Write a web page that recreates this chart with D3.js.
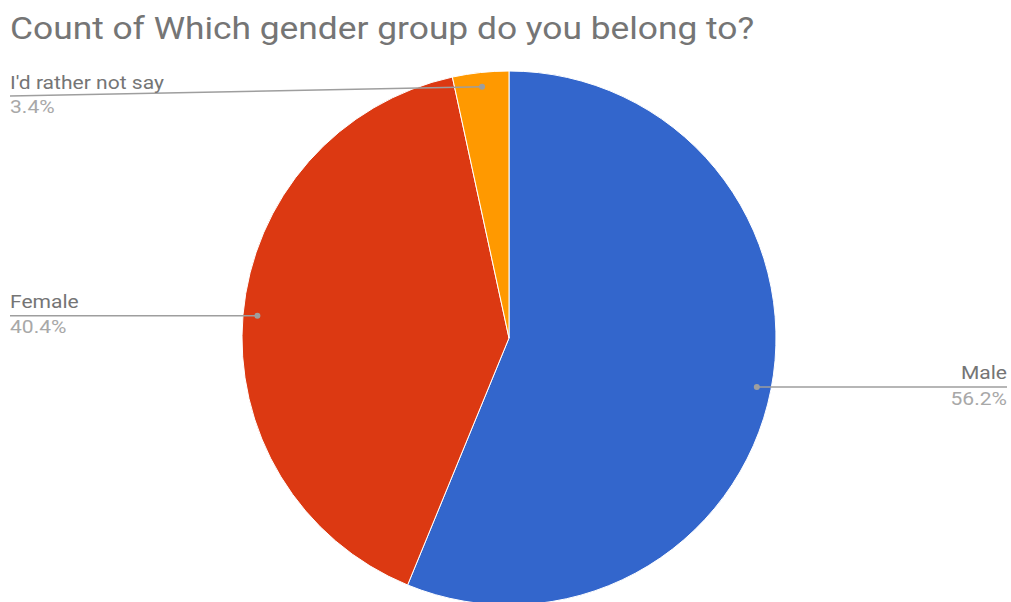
<!DOCTYPE html>
<html>
<head>
<meta charset="utf-8">
<script src="https://cdn.jsdelivr.net/npm/d3@7"></script>
<style>
  html, body { margin: 0; padding: 0; background: #fff; }
  svg { display: block; font-family: Roboto, "Noto Sans", sans-serif; }
</style>
</head>
<body>
<svg id="chart" width="1011" height="602"></svg>
<script>
// Survey answers and their shares (percent)
const categories = ["Male", "Female", "I'd rather not say"];
const shares = [56.2, 40.4, 3.4];
const colors = ["#3366cc", "#dc3912", "#ff9900"];
const title = "Count of Which gender group do you belong to?";

const cx = 509, cy = 338, radius = 267;

const svg = d3.select("#chart");

// Text helper: draws slightly widened lettering anchored at (x, y)
function wideText(parent, x, y, str, size, color, anchor, sx) {
  return parent.append("text")
    .attr("transform", `translate(${x},${y}) scale(${sx},1)`)
    .attr("text-anchor", anchor || "start")
    .attr("fill", color)
    .style("font-size", size + "px")
    .text(str);
}

wideText(svg, 10, 39, title, 31, "#757575", "start", 1.14);

const data = categories.map((c, i) => ({ name: c, value: shares[i], color: colors[i] }));

const pie = d3.pie().value(d => d.value).sort(null);
const arcs = pie(data);
const arc = d3.arc().innerRadius(0).outerRadius(radius);

const g = svg.append("g").attr("transform", `translate(${cx},${cy})`);

g.selectAll("path.slice")
  .data(arcs)
  .join("path")
  .attr("class", "slice")
  .attr("d", arc)
  .attr("fill", d => d.data.color)
  .attr("stroke", "#fff")
  .attr("stroke-width", 1);

// Leader dots sit just inside the rim, at each slice's mid angle
const dotArc = d3.arc().innerRadius(radius * 0.946).outerRadius(radius * 0.946);
const pct = d3.format(".1f");

// Label placement: side, leader end and text baselines per slice
const labelSpec = [
  { side: "right", x: 1007, lineY: null, nameY: 379, valY: 405 },
  { side: "left",  x: 10,   lineY: null, nameY: 308, valY: 333 },
  { side: "left",  x: 10,   lineY: 96,   nameY: 89,  valY: 113 }
];

const labels = svg.append("g");

arcs.forEach((a, i) => {
  const [dx, dy] = dotArc.centroid(a);
  const px = cx + dx, py = cy + dy;
  const spec = labelSpec[i];
  const endY = spec.lineY === null ? py : spec.lineY;
  labels.append("path")
    .attr("d", d3.line()([[px, py], [spec.x, endY]]))
    .attr("fill", "none")
    .attr("stroke", "#9e9e9e")
    .attr("stroke-width", 1.5);
  labels.append("circle")
    .attr("cx", px).attr("cy", py).attr("r", 3)
    .attr("fill", "#9e9e9e");

  const anchor = spec.side === "right" ? "end" : "start";
  wideText(labels, spec.x, spec.nameY, a.data.name, 18, "#757575", anchor, 1.17);
  wideText(labels, spec.x, spec.valY, pct(a.data.value) + "%", 18, "#a8a8a8", anchor, 1.17);
});
</script>
</body>
</html>
